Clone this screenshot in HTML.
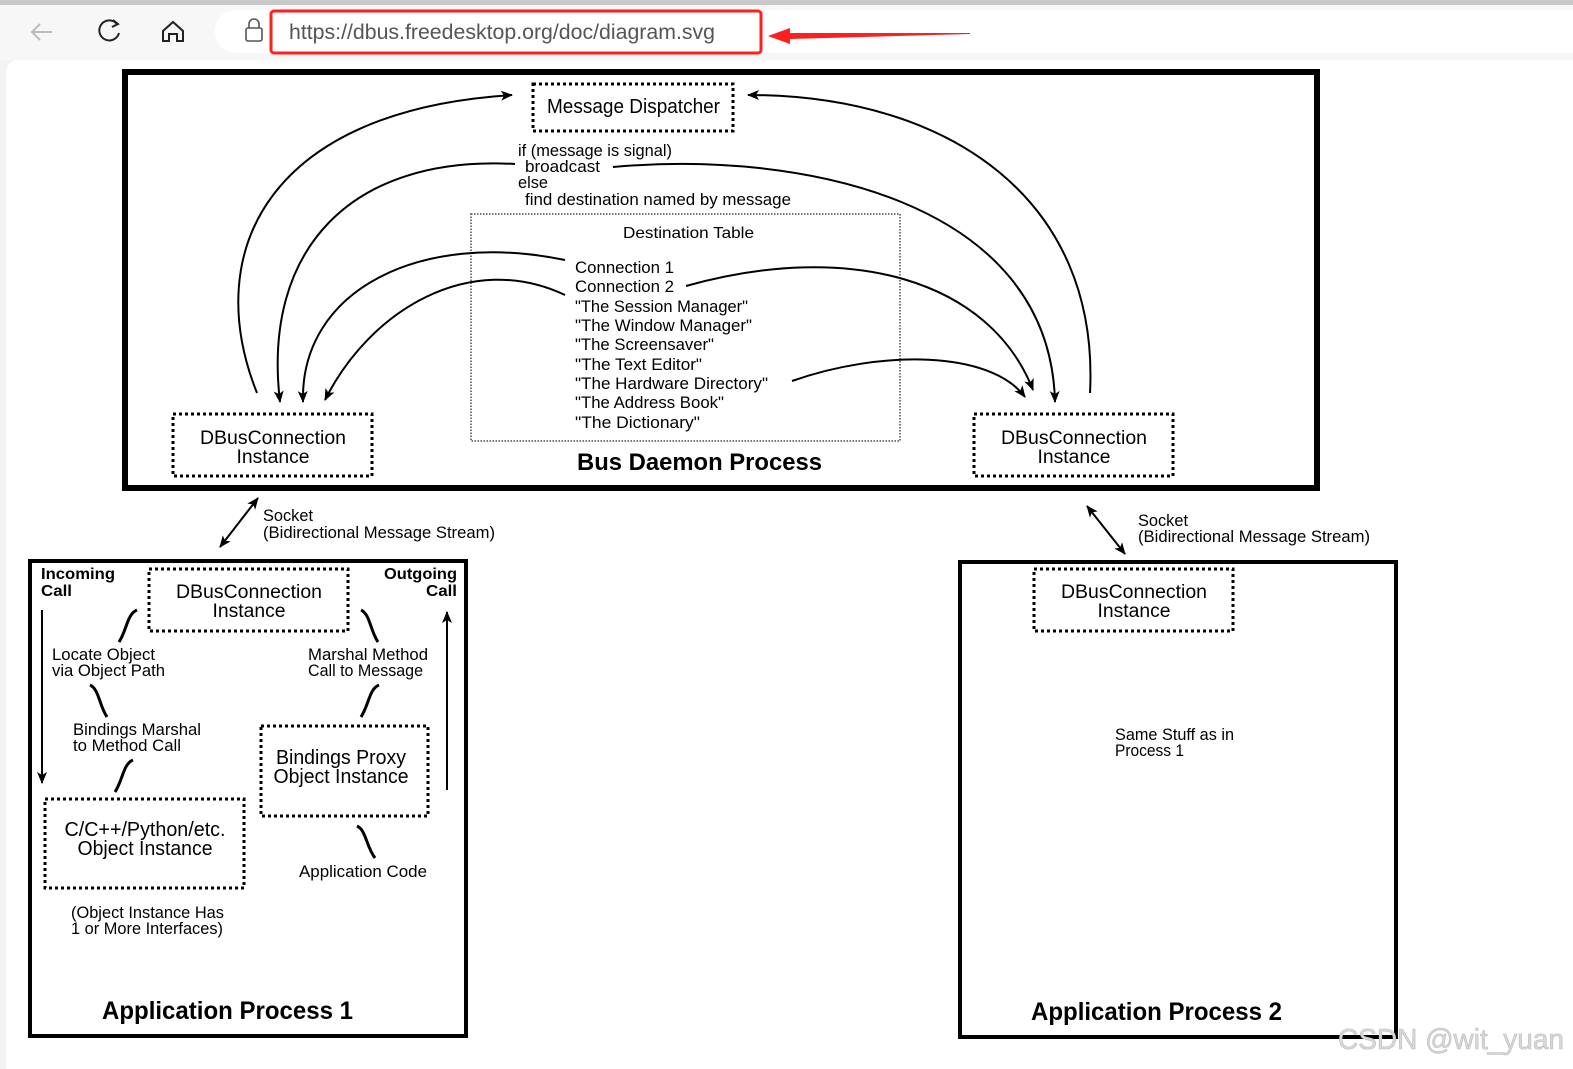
<!DOCTYPE html>
<html><head><meta charset="utf-8"><style>
html,body{margin:0;padding:0;width:1573px;height:1069px;overflow:hidden;background:#f3f3f3}
svg{display:block}
text{font-family:"Liberation Sans",sans-serif;fill:#000}
</style></head><body>
<svg width="1573" height="1069" viewBox="0 0 1573 1069" xmlns="http://www.w3.org/2000/svg">
<defs>
<marker id="ah" viewBox="0 0 12 10" refX="11" refY="5" markerWidth="12" markerHeight="10" markerUnits="userSpaceOnUse" orient="auto-start-reverse">
<path d="M0,0 L12,5 L0,10 L3,5 z" fill="#000"/>
</marker>
</defs>
<!-- browser chrome -->
<rect x="0" y="0" width="1573" height="5" fill="#c8c8c8"/>
<rect x="0" y="5" width="1573" height="55" fill="#f7f7f7"/>
<rect x="215" y="10" width="1380" height="43" rx="21" fill="#fff"/>
<path d="M52,32 H32 M40,24 L32,32 L40,40" stroke="#bbb" stroke-width="2" fill="none"/>
<path d="M117,24 A10,10 0 1 0 119,33" stroke="#222" stroke-width="2" fill="none"/>
<path d="M113,20 L118,24 L112,27" stroke="#222" stroke-width="2" fill="none"/>
<path d="M163,41 V31 L173,22 L183,31 V41 H177 V34 H169 V41 Z" stroke="#222" stroke-width="2" fill="none"/>
<rect x="246" y="28" width="16" height="13" rx="2" stroke="#555" stroke-width="1.6" fill="none"/>
<path d="M249,28 V24 A5,5 0 0 1 259,24 V28" stroke="#555" stroke-width="1.6" fill="none"/>
<rect x="271" y="11" width="490" height="42" rx="3" fill="none" stroke="#ff1f1f" stroke-width="3"/>
<text x="289" y="39" font-size="21" fill="#555" style="fill:#555" textLength="426" lengthAdjust="spacingAndGlyphs">https://dbus.freedesktop.org/doc/diagram.svg</text>
<path d="M768,36 L790,28 L790,33 L970,33 L970,34 L790,39 L790,44 Z" fill="#ff1f1f"/>
<!-- page -->
<rect x="6" y="60" width="1580" height="1020" rx="12" fill="#fff"/>

<!-- Bus daemon -->
<rect x="125" y="72" width="1192" height="416" fill="none" stroke="#000" stroke-width="6"/>
<rect x="533" y="84" width="200" height="47" fill="none" stroke="#000" stroke-width="3" stroke-dasharray="3,3"/>
<text x="547" y="113" font-size="20" textLength="173" lengthAdjust="spacingAndGlyphs">Message Dispatcher</text>
<text x="518" y="156" font-size="17" textLength="154" lengthAdjust="spacingAndGlyphs">if (message is signal)</text>
<text x="525" y="172" font-size="17" textLength="75" lengthAdjust="spacingAndGlyphs">broadcast</text>
<text x="518" y="188" font-size="17" textLength="30" lengthAdjust="spacingAndGlyphs">else</text>
<text x="525" y="205" font-size="17" textLength="266" lengthAdjust="spacingAndGlyphs">find destination named by message</text>
<rect x="471" y="214" width="429" height="227" fill="none" stroke="#777" stroke-width="2" stroke-dasharray="1.5,1.5"/>
<text x="623" y="238" font-size="16" textLength="131" lengthAdjust="spacingAndGlyphs">Destination Table</text>
<g font-size="17">
<text x="575" y="273" textLength="99" lengthAdjust="spacingAndGlyphs">Connection 1</text>
<text x="575" y="292" textLength="99" lengthAdjust="spacingAndGlyphs">Connection 2</text>
<text x="575" y="312" textLength="173" lengthAdjust="spacingAndGlyphs">"The Session Manager"</text>
<text x="575" y="331" textLength="177" lengthAdjust="spacingAndGlyphs">"The Window Manager"</text>
<text x="575" y="350" textLength="139" lengthAdjust="spacingAndGlyphs">"The Screensaver"</text>
<text x="575" y="370" textLength="127" lengthAdjust="spacingAndGlyphs">"The Text Editor"</text>
<text x="575" y="389" textLength="193" lengthAdjust="spacingAndGlyphs">"The Hardware Directory"</text>
<text x="575" y="408" textLength="149" lengthAdjust="spacingAndGlyphs">"The Address Book"</text>
<text x="575" y="428" textLength="125" lengthAdjust="spacingAndGlyphs">"The Dictionary"</text>
</g>
<text x="577" y="470" font-size="24" font-weight="bold" textLength="245" lengthAdjust="spacingAndGlyphs">Bus Daemon Process</text>

<rect x="173" y="414" width="199" height="62" fill="none" stroke="#000" stroke-width="3" stroke-dasharray="3,3"/>
<text x="273" y="444" font-size="19" text-anchor="middle" textLength="146" lengthAdjust="spacingAndGlyphs">DBusConnection</text>
<text x="273" y="463" font-size="19" text-anchor="middle" textLength="73" lengthAdjust="spacingAndGlyphs">Instance</text>
<rect x="974" y="414" width="199" height="62" fill="none" stroke="#000" stroke-width="3" stroke-dasharray="3,3"/>
<text x="1074" y="444" font-size="19" text-anchor="middle" textLength="146" lengthAdjust="spacingAndGlyphs">DBusConnection</text>
<text x="1074" y="463" font-size="19" text-anchor="middle" textLength="73" lengthAdjust="spacingAndGlyphs">Instance</text>

<g fill="none" stroke="#000" stroke-width="2">
<path d="M257,393 C200,250 270,110 512,95" marker-end="url(#ah)"/>
<path d="M515,164 C350,155 262,250 280,402" marker-end="url(#ah)"/>
<path d="M565,260 C420,230 300,290 303,402" marker-end="url(#ah)"/>
<path d="M565,295 C470,250 370,310 325,400" marker-end="url(#ah)"/>
<path d="M1090,393 C1100,200 950,95 748,95" marker-end="url(#ah)"/>
<path d="M613,167 C800,150 1050,200 1055,402" marker-end="url(#ah)"/>
<path d="M686,286 C850,240 990,280 1033,390" marker-end="url(#ah)"/>
<path d="M792,381 C880,350 990,350 1025,397" marker-end="url(#ah)"/>
<path d="M220,547 L258,498" marker-start="url(#ah)" marker-end="url(#ah)"/>
<path d="M1087,506 L1125,554" marker-start="url(#ah)" marker-end="url(#ah)"/>
</g>
<text x="263" y="521" font-size="17" textLength="50" lengthAdjust="spacingAndGlyphs">Socket</text>
<text x="263" y="538" font-size="17" textLength="232" lengthAdjust="spacingAndGlyphs">(Bidirectional Message Stream)</text>
<text x="1138" y="526" font-size="17" textLength="50" lengthAdjust="spacingAndGlyphs">Socket</text>
<text x="1138" y="542" font-size="17" textLength="232" lengthAdjust="spacingAndGlyphs">(Bidirectional Message Stream)</text>

<!-- App process 1 -->
<rect x="30" y="561" width="436" height="475" fill="none" stroke="#000" stroke-width="4"/>
<text x="41" y="579" font-size="16" font-weight="bold" textLength="74" lengthAdjust="spacingAndGlyphs">Incoming</text>
<text x="41" y="596" font-size="16" font-weight="bold" textLength="31" lengthAdjust="spacingAndGlyphs">Call</text>
<text x="457" y="579" font-size="16" font-weight="bold" text-anchor="end" textLength="73" lengthAdjust="spacingAndGlyphs">Outgoing</text>
<text x="457" y="596" font-size="16" font-weight="bold" text-anchor="end" textLength="31" lengthAdjust="spacingAndGlyphs">Call</text>
<rect x="149" y="569" width="199" height="62" fill="none" stroke="#000" stroke-width="3" stroke-dasharray="3,3"/>
<text x="249" y="598" font-size="19" text-anchor="middle" textLength="146" lengthAdjust="spacingAndGlyphs">DBusConnection</text>
<text x="249" y="617" font-size="19" text-anchor="middle" textLength="73" lengthAdjust="spacingAndGlyphs">Instance</text>
<text x="52" y="660" font-size="17" textLength="103" lengthAdjust="spacingAndGlyphs">Locate Object</text>
<text x="52" y="676" font-size="17" textLength="113" lengthAdjust="spacingAndGlyphs">via Object Path</text>
<text x="308" y="660" font-size="17" textLength="120" lengthAdjust="spacingAndGlyphs">Marshal Method</text>
<text x="308" y="676" font-size="17" textLength="115" lengthAdjust="spacingAndGlyphs">Call to Message</text>
<text x="73" y="735" font-size="17" textLength="128" lengthAdjust="spacingAndGlyphs">Bindings Marshal</text>
<text x="73" y="751" font-size="17" textLength="108" lengthAdjust="spacingAndGlyphs">to Method Call</text>
<rect x="261" y="726" width="167" height="90" fill="none" stroke="#000" stroke-width="3" stroke-dasharray="3,3"/>
<text x="341" y="764" font-size="20" text-anchor="middle" textLength="130" lengthAdjust="spacingAndGlyphs">Bindings Proxy</text>
<text x="341" y="783" font-size="20" text-anchor="middle" textLength="135" lengthAdjust="spacingAndGlyphs">Object Instance</text>
<rect x="45" y="799" width="199" height="89" fill="none" stroke="#000" stroke-width="3" stroke-dasharray="3,3"/>
<text x="145" y="836" font-size="20" text-anchor="middle" textLength="161" lengthAdjust="spacingAndGlyphs">C/C++/Python/etc.</text>
<text x="145" y="855" font-size="20" text-anchor="middle" textLength="135" lengthAdjust="spacingAndGlyphs">Object Instance</text>
<text x="299" y="877" font-size="17" textLength="128" lengthAdjust="spacingAndGlyphs">Application Code</text>
<text x="71" y="918" font-size="17" textLength="153" lengthAdjust="spacingAndGlyphs">(Object Instance Has</text>
<text x="71" y="934" font-size="17" textLength="152" lengthAdjust="spacingAndGlyphs">1 or More Interfaces)</text>
<text x="102" y="1019" font-size="25" font-weight="bold" textLength="251" lengthAdjust="spacingAndGlyphs">Application Process 1</text>
<g fill="none" stroke="#000" stroke-width="3">
<path d="M119,642 C127,630 127,614 137,610"/>
<path d="M361,610 C370,614 370,630 378,642"/>
<path d="M90,685 C99,689 99,705 107,717"/>
<path d="M361,717 C369,705 369,689 379,685"/>
<path d="M115,792 C123,780 123,764 133,760"/>
<path d="M357,826 C366,830 366,846 375,858"/>
</g>
<g fill="none" stroke="#000" stroke-width="2">
<path d="M42,610 L42,783" marker-end="url(#ah)"/>
<path d="M447,790 L447,612" marker-end="url(#ah)"/>
</g>

<!-- App process 2 -->
<rect x="960" y="562" width="436" height="475" fill="none" stroke="#000" stroke-width="4"/>
<rect x="1034" y="569" width="199" height="62" fill="none" stroke="#000" stroke-width="3" stroke-dasharray="3,3"/>
<text x="1134" y="598" font-size="19" text-anchor="middle" textLength="146" lengthAdjust="spacingAndGlyphs">DBusConnection</text>
<text x="1134" y="617" font-size="19" text-anchor="middle" textLength="73" lengthAdjust="spacingAndGlyphs">Instance</text>
<text x="1115" y="740" font-size="17" textLength="119" lengthAdjust="spacingAndGlyphs">Same Stuff as in</text>
<text x="1115" y="756" font-size="17" textLength="69" lengthAdjust="spacingAndGlyphs">Process 1</text>
<text x="1031" y="1020" font-size="25" font-weight="bold" textLength="251" lengthAdjust="spacingAndGlyphs">Application Process 2</text>

<text x="1338" y="1049" font-size="29" style="fill:#d8d8d8" fill="#d8d8d8" stroke="#bbb" stroke-width="0.6" textLength="226" lengthAdjust="spacingAndGlyphs">CSDN @wit_yuan</text>
</svg>
</body></html>
